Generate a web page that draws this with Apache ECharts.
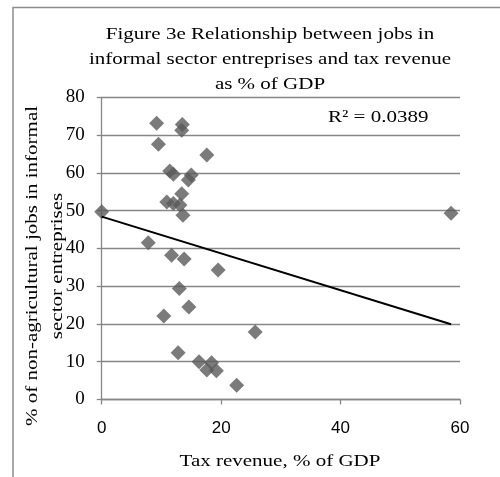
<!DOCTYPE html>
<html>
<head>
<meta charset="utf-8">
<script src="https://cdn.jsdelivr.net/npm/echarts@6/dist/echarts.min.js"></script>
<style>
  html, body { margin: 0; padding: 0; background: #fff; }
  #chart { width: 500px; height: 477px; }
</style>
</head>
<body>
<div id="chart"></div>
<script>
// Tax revenue (% of GDP) per country
var taxRevenue = [
  9.2, 9.5, 13.5, 13.4, 17.6, 11.4, 12.0, 15.0, 14.5, 13.4,
  10.9, 12.0, 13.1, 13.6, 0.0, 7.8, 11.7, 13.8, 19.5, 13.0,
  14.6, 10.4, 25.7, 12.8, 16.3, 18.4, 17.6, 19.2, 22.6, 58.5
];
// Non-agricultural jobs in informal sector enterprises (%)
var informalJobs = [
  73.1, 67.6, 72.8, 71.3, 64.7, 60.5, 59.6, 59.4, 58.1, 54.5,
  52.3, 51.9, 51.5, 48.8, 49.7, 41.5, 38.2, 37.2, 34.3, 29.4,
  24.5, 22.1, 17.9, 12.4, 10.0, 9.7, 7.8, 7.6, 3.8, 49.3
];
// Linear trend line end points
var trendX = [0, 58.5];
var trendY = [48.4, 19.9];
var rSquared = 0.0389;

var xTicks = [0, 20, 40, 60];
var yTicks = [0, 10, 20, 30, 40, 50, 60, 70, 80];

var titleText = 'Figure 3e Relationship between jobs in\ninformal sector entreprises and tax revenue\nas % of GDP';
var xName = 'Tax revenue, % of GDP';
var yName = '% of non-agricultural jobs in informal\nsector entreprises';

var serif = '"Liberation Serif", "Times New Roman", serif';
var sans = '"Liberation Sans", Arial, sans-serif';
var grey = '#868686';

var points = taxRevenue.map(function (x, i) { return [x, informalJobs[i]]; });
var trend = trendX.map(function (x, i) { return [x, trendY[i]]; });

// Serif captions are drawn slightly widened (scaleX) like the original typesetting
function caption(text, x, y, opts) {
  opts = opts || {};
  return {
    type: 'text',
    x: x,
    y: y,
    rotation: opts.rotation || 0,
    scaleX: 1.2,
    scaleY: 1,
    style: {
      text: text,
      fontFamily: serif,
      fontSize: 17.5,
      lineHeight: 25,
      fill: '#000',
      align: opts.align || 'center',
      verticalAlign: 'middle'
    },
    z: 5
  };
}

var chart = echarts.init(document.getElementById('chart'), null, { renderer: 'canvas' });
chart.setOption({
  animation: false,
  backgroundColor: '#ffffff',
  grid: { left: 101.7, right: 40, top: 97.3, bottom: 77.5, containLabel: false },
  xAxis: {
    type: 'value',
    min: xTicks[0],
    max: xTicks[xTicks.length - 1],
    interval: 20,
    axisLine: { show: true, lineStyle: { color: grey, width: 1.3 } },
    axisTick: { show: true, length: 5, inside: false, lineStyle: { color: grey, width: 1.3 } },
    axisLabel: {
      margin: 20,
      fontFamily: sans,
      fontSize: 17,
      color: '#000',
      formatter: function (v) { return xTicks.indexOf(v) >= 0 ? String(v) : ''; }
    },
    splitLine: { show: false }
  },
  yAxis: {
    type: 'value',
    min: yTicks[0],
    max: yTicks[yTicks.length - 1],
    interval: 10,
    axisLine: { show: true, lineStyle: { color: grey, width: 1.3 } },
    axisTick: { show: true, length: 5, inside: false, lineStyle: { color: grey, width: 1.3 } },
    axisLabel: {
      margin: 17,
      fontFamily: serif,
      fontSize: 19,
      color: '#000',
      formatter: function (v) { return yTicks.indexOf(v) >= 0 ? String(v) : ''; }
    },
    splitLine: { show: true, lineStyle: { color: grey, width: 1.3 } }
  },
  graphic: [
    {
      type: 'rect',
      shape: { x: 13, y: 7.5, width: 600, height: 600 },
      style: { fill: 'none', stroke: '#8c8c8c', lineWidth: 1.5 },
      silent: true,
      z: -10
    },
    caption(titleText, 270, 59.5),
    caption(yName, 44.5, 266, { rotation: Math.PI / 2 }),
    caption(xName, 280, 461),
    caption('R² = ' + rSquared.toFixed(4), 328, 117, { align: 'left' })
  ],
  series: [
    {
      name: 'Countries',
      type: 'scatter',
      data: points,
      symbol: 'diamond',
      symbolSize: [15, 15],
      itemStyle: { color: '#5a5a5a' },
      z: 2
    },
    {
      name: 'Linear trend',
      type: 'line',
      data: trend,
      showSymbol: false,
      symbol: 'none',
      lineStyle: { color: '#000', width: 2 },
      z: 3
    }
  ]
});
</script>
</body>
</html>
